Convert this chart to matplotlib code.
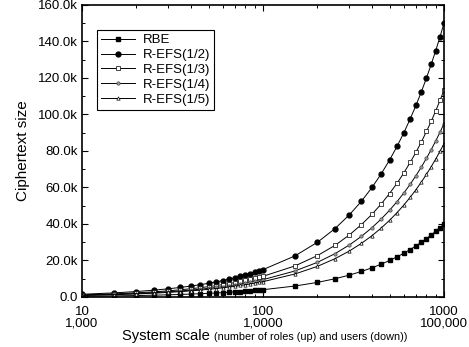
import matplotlib
matplotlib.use("Agg")
import matplotlib.pyplot as plt
from matplotlib.ticker import FixedLocator, MultipleLocator, FuncFormatter, NullFormatter

plt.rcParams['font.family'] = ['Liberation Sans', 'DejaVu Sans']

# number of roles (upper scale); users = 100 x roles
roles = [10, 15, 20, 25, 30, 35, 40, 45, 50, 55, 60, 65, 70, 75, 80, 85, 90, 95, 100,
         150, 200, 250, 300, 350, 400, 450, 500, 550, 600, 650, 700, 750, 800, 850, 900, 950, 1000]

# ciphertext size in k
rbe = [0.4, 0.6, 0.8, 1.0, 1.2, 1.4, 1.6, 1.8, 2.0, 2.2, 2.4, 2.6, 2.8, 3.0, 3.2, 3.4, 3.6, 3.8, 4.0,
       6.0, 8.0, 10.0, 12.0, 14.0, 16.0, 18.0, 20.0, 22.0, 24.0, 26.0, 28.0, 30.0, 32.0, 34.0, 36.0, 38.0, 40.0]
refs_2 = [1.5, 2.25, 3.0, 3.75, 4.5, 5.25, 6.0, 6.75, 7.5, 8.25, 9.0, 9.75, 10.5, 11.25, 12.0, 12.75, 13.5, 14.25, 15.0,
          22.5, 30.0, 37.5, 45.0, 52.5, 60.0, 67.5, 75.0, 82.5, 90.0, 97.5, 105.0, 112.5, 120.0, 127.5, 135.0, 142.5, 150.0]
refs_3 = [1.13, 1.7, 2.27, 2.83, 3.4, 3.97, 4.53, 5.1, 5.67, 6.23, 6.8, 7.37, 7.93, 8.5, 9.07, 9.63, 10.2, 10.77, 11.33,
          17.0, 22.7, 28.3, 34.0, 39.7, 45.3, 51.0, 56.7, 62.3, 68.0, 73.7, 79.3, 85.0, 90.7, 96.3, 102.0, 107.7, 113.3]
refs_4 = [0.95, 1.43, 1.9, 2.38, 2.85, 3.33, 3.8, 4.28, 4.75, 5.23, 5.7, 6.18, 6.65, 7.13, 7.6, 8.08, 8.55, 9.03, 9.5,
          14.25, 19.0, 23.75, 28.5, 33.25, 38.0, 42.75, 47.5, 52.25, 57.0, 61.75, 66.5, 71.25, 76.0, 80.75, 85.5, 90.25, 95.0]
refs_5 = [0.84, 1.26, 1.68, 2.1, 2.52, 2.94, 3.36, 3.78, 4.2, 4.62, 5.04, 5.46, 5.88, 6.3, 6.72, 7.14, 7.56, 7.98, 8.4,
          12.6, 16.8, 21.0, 25.2, 29.4, 33.6, 37.8, 42.0, 46.2, 50.4, 54.6, 58.8, 63.0, 67.2, 71.4, 75.6, 79.8, 84.0]

xticks = [10, 100, 1000]
xtick_roles = ["10", "100", "1000"]
xtick_users = ["1,000", "1,0000", "100,000"]

fig = plt.figure(figsize=(4.69, 3.47), dpi=100)
ax = fig.add_axes([0.1748, 0.1441, 0.7719, 0.8415])

lw = 0.7
ax.plot(roles, rbe, color='black', lw=lw, marker='s', ms=3.0, mfc='black', mec='black', label='RBE')
ax.plot(roles, refs_2, color='black', lw=lw, marker='o', ms=3.5, mfc='black', mec='black', label='R-EFS(1/2)')
ax.plot(roles, refs_3, color='black', lw=lw, marker='s', ms=2.2, mfc='white', mec='black', mew=0.5, label='R-EFS(1/3)')
ax.plot(roles, refs_4, color='black', lw=lw, marker='o', ms=2.4, mfc='#999999', mec='#444444', mew=0.5, label='R-EFS(1/4)')
ax.plot(roles, refs_5, color='black', lw=lw, marker='^', ms=2.4, mfc='white', mec='black', mew=0.5, label='R-EFS(1/5)')

ax.set_xscale('log')
ax.set_xlim(10, 1000)
ax.set_ylim(0, 160)
ax.xaxis.set_major_locator(FixedLocator(xticks))
ax.xaxis.set_major_formatter(NullFormatter())
ax.xaxis.set_minor_formatter(NullFormatter())
ax.yaxis.set_major_locator(MultipleLocator(20))
ax.yaxis.set_minor_locator(MultipleLocator(10))
ax.yaxis.set_major_formatter(FuncFormatter(lambda v, p: "0.0" if v == 0 else "%.1fk" % v))
ax.tick_params(axis='both', which='both', direction='in', top=True, right=True, labelsize=9.5)
ax.tick_params(which='major', length=4, width=0.8)
ax.tick_params(which='minor', length=2.5, width=0.7)
ax.tick_params(axis='y', pad=3)
for s in ax.spines.values():
    s.set_linewidth(1.2)

# two rows of x tick labels: roles (up) and users (down)
for xv, r, u in zip(xticks, xtick_roles, xtick_users):
    ax.text(xv, -0.053, r, transform=ax.get_xaxis_transform(), ha='center', va='center', fontsize=9.5)
    ax.text(xv, -0.090, u, transform=ax.get_xaxis_transform(), ha='center', va='center', fontsize=9.5)

ax.set_ylabel("Ciphertext size", fontsize=11, labelpad=6)

leg = ax.legend(loc='upper left', bbox_to_anchor=(0.041, 0.914), fontsize=9.5, frameon=True,
                fancybox=False, edgecolor='black', framealpha=1, handlelength=2.6,
                handletextpad=0.6, borderpad=0.3, labelspacing=0.2, borderaxespad=0)
leg.get_frame().set_linewidth(0.8)

# two-size x label
t1 = fig.text(0.26, 0.02, "System scale ", fontsize=10.6, ha='left', va='baseline')
fig.canvas.draw()
bb = t1.get_window_extent()
x2 = bb.x1 / fig.bbox.width
fig.text(x2, 0.02, "(number of roles (up) and users (down))", fontsize=7.8, ha='left', va='baseline')

fig.savefig("out.png", dpi=100)
